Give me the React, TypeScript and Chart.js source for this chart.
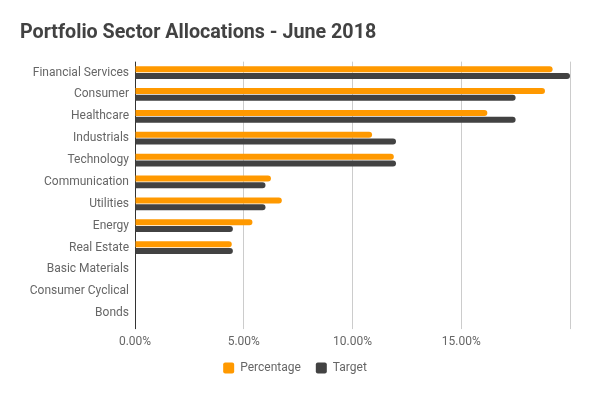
import React, { useEffect, useRef } from "react";
import { Chart, registerables } from "chart.js";

Chart.register(...registerables);

const categories = [
  "Financial Services",
  "Consumer",
  "Healthcare",
  "Industrials",
  "Technology",
  "Communication",
  "Utilities",
  "Energy",
  "Real Estate",
  "Basic Materials",
  "Consumer Cyclical",
  "Bonds",
];
const percentage = [19.2, 18.85, 16.2, 10.9, 11.9, 6.25, 6.75, 5.4, 4.45, 0, 0, 0];
const target = [20, 17.5, 17.5, 12, 12, 6, 6, 4.5, 4.5, 0, 0, 0];
const tickLabels = ["0.00%", "5.00%", "10.00%", "15.00%"];

export default function App() {
  const ref = useRef<HTMLCanvasElement | null>(null);
  useEffect(() => {
    if (!ref.current) return;
    const font = "Roboto";
    const chart = new Chart(ref.current, {
      type: "bar",
      data: {
        labels: categories,
        datasets: [
          {
            label: "Percentage",
            data: percentage,
            backgroundColor: "#ff9900",
            borderRadius: 3,
            categoryPercentage: 0.62,
            barPercentage: 0.88,
          },
          {
            label: "Target",
            data: target,
            backgroundColor: "#424242",
            borderRadius: 3,
            categoryPercentage: 0.62,
            barPercentage: 0.88,
          },
        ],
      },
      options: {
        indexAxis: "y",
        animation: false,
        responsive: false,
        devicePixelRatio: 1,
        layout: { padding: { left: 20, right: 20, top: 12, bottom: 11 } },
        plugins: {
          title: {
            display: true,
            text: "Portfolio Sector Allocations - June 2018",
            align: "start",
            color: "#424242",
            font: { family: font, size: 19.7, weight: "bold" },
            padding: { top: 9, bottom: 17 },
          },
          legend: {
            position: "bottom",
            labels: {
              color: "#666666",
              font: { family: font, size: 12 },
              boxWidth: 11,
              boxHeight: 11,
              padding: 15,
              useBorderRadius: true,
              borderRadius: 2,
            },
          },
          tooltip: { enabled: false },
        },
        scales: {
          x: {
            min: 0,
            max: 20,
            afterFit: (scale: any) => {
              scale.height = scale.height - 8.5;
            },
            ticks: {
              stepSize: 5,
              color: "#666666",
              font: { family: font, size: 12 },
              padding: 6,
              callback: (v: any, i: number) => (tickLabels[i] !== undefined ? tickLabels[i] : ""),
            },
            grid: {
              color: (ctx: any) => (ctx.tick && ctx.tick.value === 0 ? "#333333" : "#cccccc"),
              tickLength: 5,
            },
            border: { display: false },
          },
          y: {
            afterFit: (scale: any) => {
              scale.width = 115;
            },
            ticks: {
              color: "#666666",
              font: { family: font, size: 12 },
              padding: 6,
            },
            grid: { display: false, drawTicks: false, tickLength: 0 },
            border: { display: false },
          },
        },
      },
    });
    return () => chart.destroy();
  }, []);
  return (
    <div style={{ position: "fixed", left: 0, top: 0, width: 590, height: 395, background: "#fff" }}>
      <canvas ref={ref} width={590} height={395} />
    </div>
  );
}
